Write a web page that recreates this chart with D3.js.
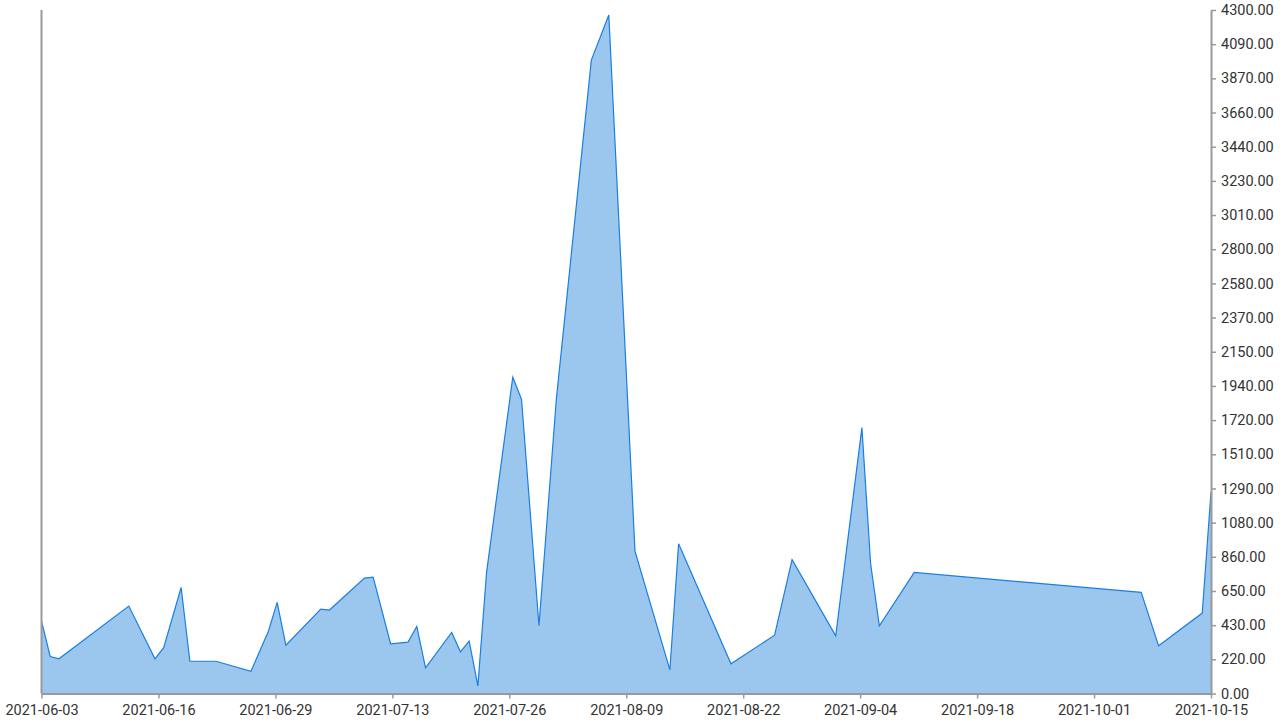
<!DOCTYPE html>
<html><head><meta charset="utf-8">
<script src="https://cdn.jsdelivr.net/npm/d3@7"></script>
<style>
html,body{margin:0;padding:0;background:#fff;}
svg text{font-family:Roboto,"Noto Sans",sans-serif;}
</style></head>
<body>
<svg id="chart" width="1280" height="720"></svg>
<script>
const dates = ["2021-06-03","2021-06-04","2021-06-05","2021-06-13","2021-06-16","2021-06-17","2021-06-19","2021-06-20","2021-06-23","2021-06-27","2021-06-29","2021-06-30","2021-07-01","2021-07-05","2021-07-06","2021-07-10","2021-07-11","2021-07-13","2021-07-15","2021-07-16","2021-07-17","2021-07-20","2021-07-21","2021-07-22","2021-07-23","2021-07-24","2021-07-27","2021-07-28","2021-07-30","2021-08-01","2021-08-05","2021-08-07","2021-08-10","2021-08-14","2021-08-15","2021-08-21","2021-08-26","2021-08-28","2021-09-02","2021-09-05","2021-09-06","2021-09-07","2021-09-11","2021-10-07","2021-10-09","2021-10-14","2021-10-15"];
const values = [455,233,218,550,218,288,667,203,203,140,392,573,304,531,525,726,732,313,323,422,162,384,262,329,48,764,1990,1851,426,1857,3985,4269,896,149,942,187,367,842,363,1673,816,426,762,636,300,506,1266];
const xTickLabels = ["2021-06-03","2021-06-16","2021-06-29","2021-07-13","2021-07-26","2021-08-09","2021-08-22","2021-09-04","2021-09-18","2021-10-01","2021-10-15"];
const yTickLabels = ["0.00","220.00","430.00","650.00","860.00","1080.00","1290.00","1510.00","1720.00","1940.00","2150.00","2370.00","2580.00","2800.00","3010.00","3230.00","3440.00","3660.00","3870.00","4090.00","4300.00"];
const yMax = 4300;

(function(){
const parse = d3.utcParse("%Y-%m-%d");
const data = dates.map((d,i)=>({date:parse(d), value:values[i]}));

const mL = 41.5, mR = 1211, mT = 10, mB = 693.5;
const svg = d3.select("#chart");
const x = d3.scaleUtc().domain(d3.extent(data, d=>d.date)).range([mL, mR]);
const y = d3.scaleLinear().domain([0, yMax]).range([mB, mT]);

const area = d3.area().x(d=>x(d.date)).y0(y(0)).y1(d=>y(d.value));
const line = d3.line().x(d=>x(d.date)).y(d=>y(d.value));

svg.append("path").datum(data).attr("d", area).attr("fill", "#9bc7ef");
svg.append("path").datum(data).attr("d", line).attr("fill", "none").attr("stroke", "#1a7fe0").attr("stroke-width", 1.2);

const [d0, d1] = x.domain();
const xTicks = xTickLabels.map((l,i)=> new Date(+d0 + (d1 - d0) * i / (xTickLabels.length - 1)));
const xAxis = d3.axisBottom(x).tickValues(xTicks).tickFormat((d,i)=>xTickLabels[i]).tickSize(5).tickSizeOuter(0).tickPadding(6);
const gx = svg.append("g").attr("transform", `translate(0,${mB})`).call(xAxis);
gx.select(".domain").attr("stroke", "#999").attr("stroke-width", 2);
gx.selectAll(".tick line").attr("stroke", "#999").attr("stroke-width", 1.5);
gx.selectAll(".tick text").attr("fill", "#333").attr("font-size", 14.5).attr("font-family", "Roboto");

const yTicks = yTickLabels.map((l,i)=> yMax * i / (yTickLabels.length - 1));
const yAxis = d3.axisRight(y).tickValues(yTicks).tickFormat((d,i)=>yTickLabels[i]).tickSize(5).tickSizeOuter(0).tickPadding(5);
const gy = svg.append("g").attr("transform", `translate(${mR},0)`).call(yAxis);
gy.select(".domain").attr("stroke", "#999").attr("stroke-width", 2);
gy.selectAll(".tick line").attr("stroke", "#999").attr("stroke-width", 1.5);
gy.selectAll(".tick text").attr("fill", "#333").attr("font-size", 14.5).attr("font-family", "Roboto");

svg.append("line").attr("x1", mL).attr("x2", mL).attr("y1", mT).attr("y2", mB)
  .attr("stroke", "#999").attr("stroke-width", 2);
})();
</script>
</body></html>
